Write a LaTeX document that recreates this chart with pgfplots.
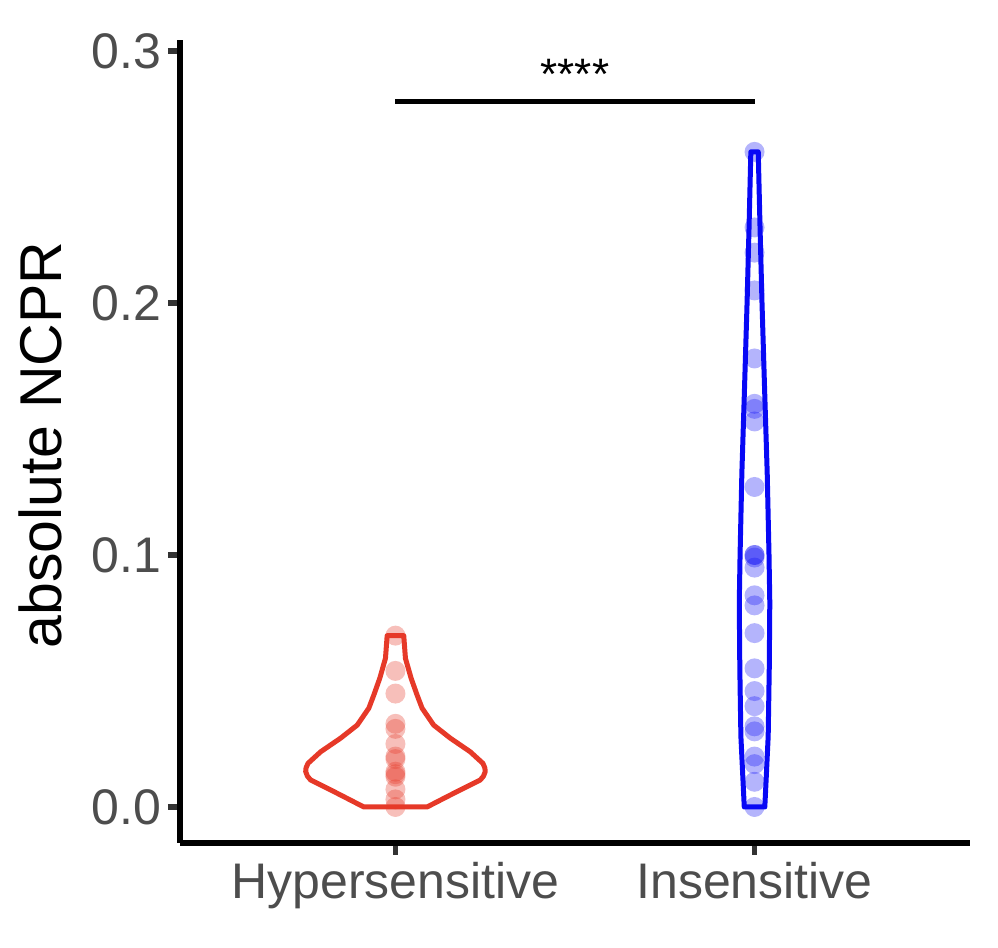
\documentclass[border=0pt]{standalone}
\usepackage{pgfplots}
\pgfplotsset{compat=1.18}
\usepackage{fontspec}
\setmainfont{Liberation Sans}
\definecolor{redv}{RGB}{230,57,40}
\definecolor{bluev}{RGB}{8,8,245}
\definecolor{ticklab}{RGB}{77,77,77}
\definecolor{tickcol}{RGB}{51,51,51}
\begin{document}
\begin{tikzpicture}
\useasboundingbox (0,0) rectangle (499pt,474pt);
\begin{axis}[
  at={(90pt,52.5pt)}, anchor=south west,
  scale only axis, width=395pt, height=401.5pt,
  xmin=0.4, xmax=2.6, ymin=-0.0143, ymax=0.3044,
  axis lines=left,
  axis line style={-, line width=2.7pt, black},
  xtick={1,2}, xticklabels={Hypersensitive,Insensitive},
  ytick={0,0.1,0.2,0.3}, yticklabels={0.0,0.1,0.2,0.3},
  tick align=outside, major tick length=6pt,
  tick style={line width=2.6pt, tickcol},
  ticklabel style={font=\fontsize{25}{30}\selectfont, text=ticklab},
  /pgf/number format/assume math mode=true,
  clip=false,
]
% points
\addplot[only marks, mark=*, mark size=5pt, color=redv, mark options={fill=redv, fill opacity=0.32, draw opacity=0}]
coordinates {
(1,0.068)(1,0.054)(1,0.045)(1,0.033)(1,0.031)(1,0.025)(1,0.020)(1,0.019)
(1,0.014)(1,0.013)(1,0.012)(1,0.007)(1,0.003)(1,0.0)
};
\addplot[only marks, mark=*, mark size=5pt, color=bluev, mark options={fill=bluev, fill opacity=0.3, draw opacity=0}]
coordinates {
(2,0.260)(2,0.230)(2,0.220)(2,0.205)(2,0.178)(2,0.160)(2,0.158)(2,0.153)
(2,0.127)(2,0.100)(2,0.100)(2,0.099)(2,0.095)(2,0.084)(2,0.080)(2,0.069)
(2,0.055)(2,0.046)(2,0.040)(2,0.032)(2,0.030)(2,0.020)(2,0.017)(2,0.010)(2,0.0)
};
% violins
\addplot[redv, line width=2.5pt, line join=round] coordinates {
(1.0231,0.068)(1.0278,0.059)(1.0436,0.0511)(1.0603,0.0444)(1.0742,0.0392)
(1.1064,0.0325)(1.1528,0.0273)(1.2083,0.0219)(1.2436,0.0173)(1.2490,0.0155)(1.25,0.014)
(1.245,0.0122)(1.2361,0.0107)(1.1714,0.0061)(1.0881,0.0)
(0.9119,0.0)(0.8286,0.0061)(0.7639,0.0107)(0.755,0.0122)(0.75,0.014)(0.7510,0.0155)(0.7564,0.0173)
(0.7917,0.0219)(0.8472,0.0273)(0.8936,0.0325)(0.9258,0.0392)(0.9397,0.0444)
(0.9564,0.0511)(0.9722,0.059)(0.9769,0.068)(1.0231,0.068)
} -- cycle;
\addplot[bluev, line width=2.5pt, line join=round] coordinates {
(2.0103,0.260)(2.0153,0.230)(2.0208,0.200)(2.0286,0.163)(2.0353,0.1325)
(2.0403,0.100)(2.0425,0.081)(2.0410,0.055)(2.0380,0.028)(2.0320,0.010)(2.0286,0.0)
(1.9714,0.0)(1.9680,0.010)(1.9620,0.028)(1.9590,0.055)(1.9575,0.081)(1.9597,0.100)
(1.9647,0.1325)(1.9714,0.163)(1.9792,0.200)(1.9847,0.230)(1.9897,0.260)(2.0103,0.260)
} -- cycle;
% significance bar
\addplot[black, line width=2.8pt] coordinates {(1,0.28)(2,0.28)};
\node[anchor=base, font=\fontsize{22}{26}\selectfont] at (axis cs:1.5,0.2848) {****};
\end{axis}
\node[rotate=90, anchor=base, font=\fontsize{29.5}{34}\selectfont] at (31pt,251.5pt) {absolute NCPR};
\end{tikzpicture}
\end{document}
